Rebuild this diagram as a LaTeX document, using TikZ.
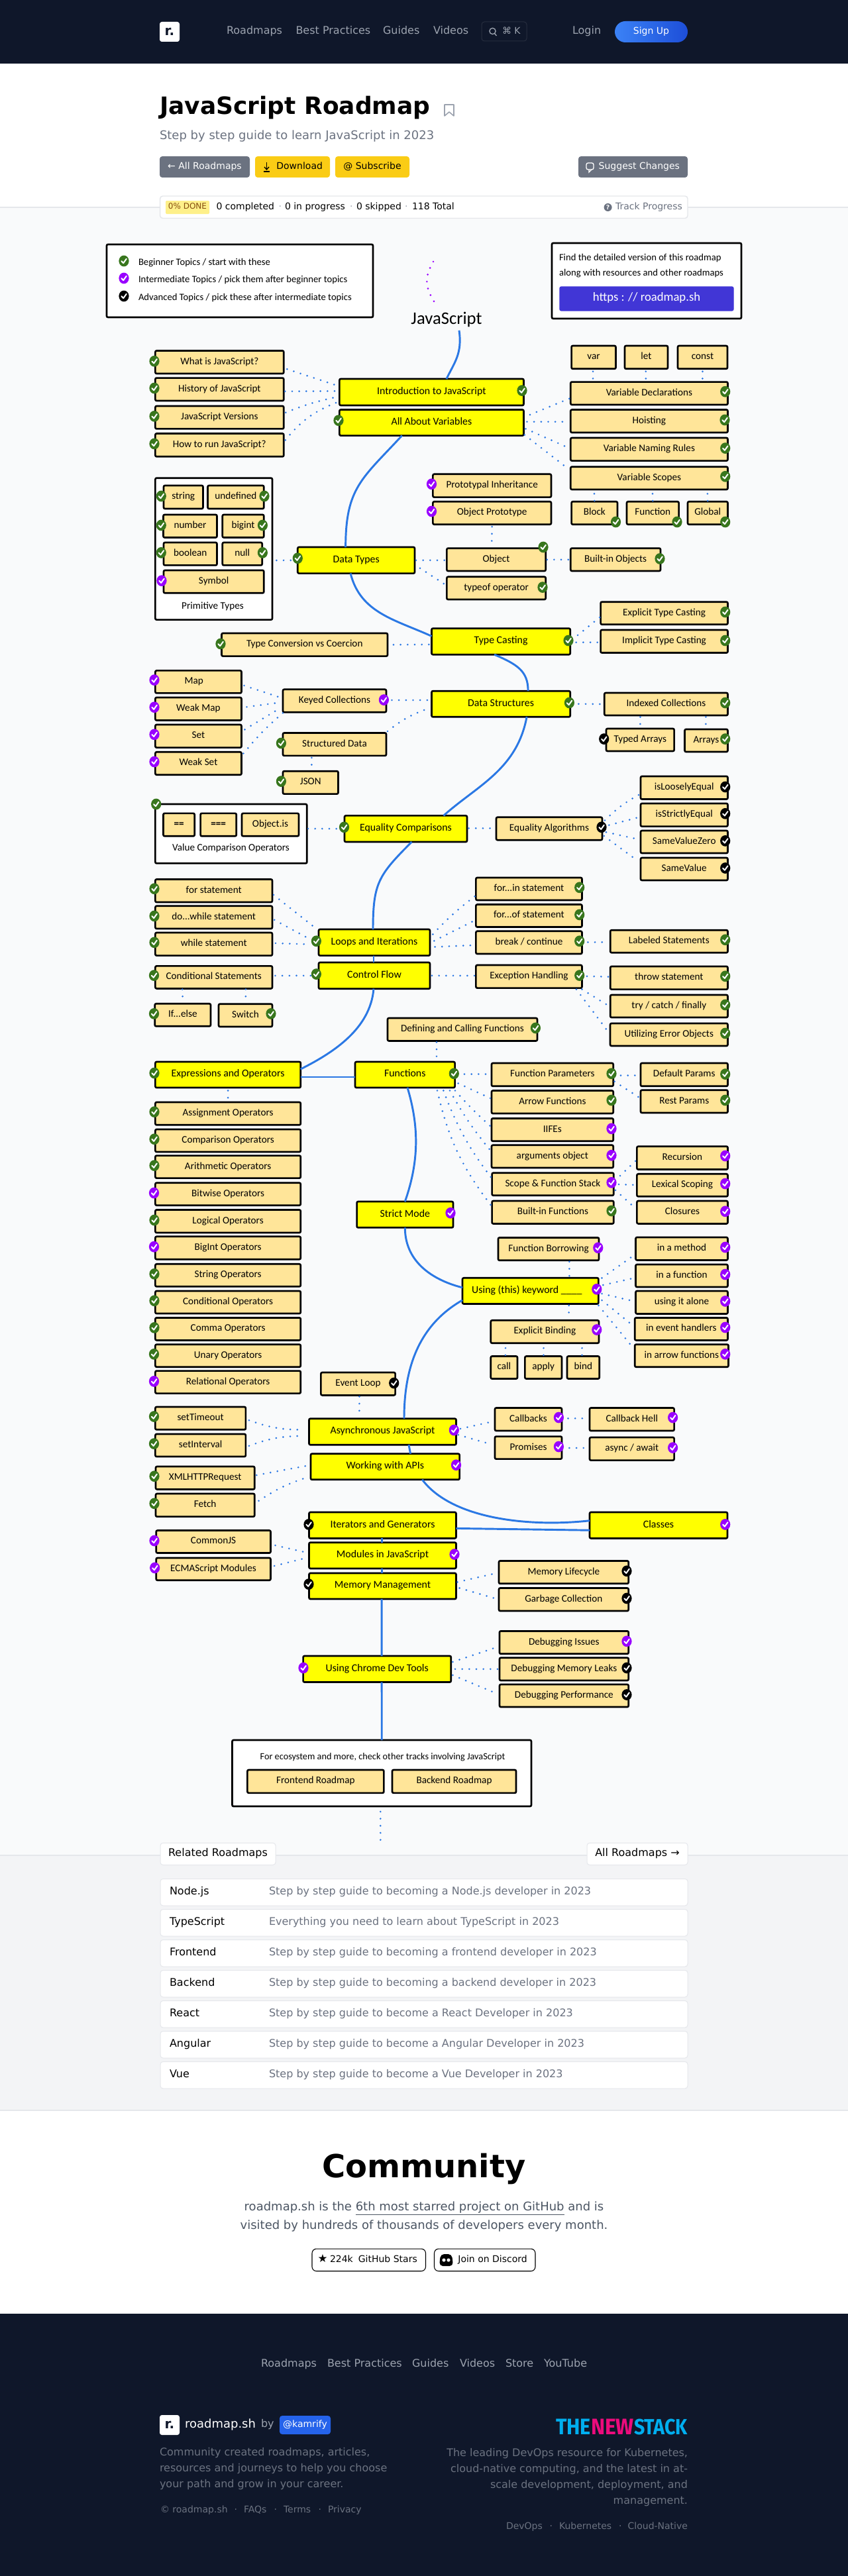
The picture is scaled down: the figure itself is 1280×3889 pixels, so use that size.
\documentclass[tikz,border=0pt]{standalone}
\usepackage{fontspec}
\usepackage{graphicx}
\usetikzlibrary{calc}
\setmainfont{Carlito}
\newfontfamily\djv{DejaVu Sans}
\newfontfamily\fira{Fira Sans}
\definecolor{navy}{HTML}{0F172A}
\definecolor{cblue}{HTML}{2B78E4}
\definecolor{topicy}{HTML}{FFFF00}
\definecolor{subt}{HTML}{FFE599}
\definecolor{ckg}{HTML}{38761D}
\definecolor{ckp}{HTML}{9900FF}
\definecolor{ckk}{HTML}{000000}
\definecolor{g200}{HTML}{E5E7EB}
\definecolor{g400}{HTML}{9CA3AF}
\definecolor{g500}{HTML}{6B7280}
\definecolor{g600}{HTML}{4B5563}
\definecolor{yel}{HTML}{FACC15}
\definecolor{indigo}{HTML}{4136D6}
\definecolor{bgA}{HTML}{F9FAFB}
\definecolor{bgB}{HTML}{F3F4F6}
\definecolor{signA}{HTML}{3B82F6}
\definecolor{signB}{HTML}{1D4ED8}
\definecolor{kamc}{HTML}{2563EB}
\definecolor{nscy}{HTML}{00AEEF}
\definecolor{nspk}{HTML}{EC0B7C}
\definecolor{donebg}{HTML}{FEF08A}
\definecolor{donefg}{HTML}{854D0E}
\tikzset{
 px12/.style={font=\djv\fontsize{9}{11}\selectfont,text height=6.6pt,text depth=2.2pt},
 px14/.style={font=\djv\fontsize{10.5}{12.5}\selectfont,text height=7.8pt,text depth=2.5pt},
 px16/.style={font=\djv\fontsize{12}{14}\selectfont,text height=8.9pt,text depth=2.9pt},
 px18/.style={font=\djv\fontsize{13.5}{16}\selectfont,text height=10pt,text depth=3.2pt},
 hand/.style={font=\fontsize{11.4}{13}\selectfont,text height=7.8pt,text depth=2.6pt,inner sep=0pt,outer sep=0pt,align=center},
 handS/.style={hand,font=\fontsize{11}{13}\selectfont},
 handB/.style={hand,font=\fontsize{10.7}{13}\selectfont},
 sub/.style={hand,draw=black,line width=2pt,fill=subt,rounded corners=1.5pt},
 top/.style={hand,font=\fontsize{11.9}{13}\selectfont,draw=black,line width=2pt,fill=topicy,rounded corners=1.5pt},
 wbox/.style={hand,draw=black,line width=2pt,fill=white,rounded corners=1.5pt},
 web/.style={inner sep=0pt,outer sep=0pt,anchor=west},
 webb/.style={inner sep=0pt,outer sep=0pt,rounded corners=3pt},
 dotl/.style={draw=cblue,line width=2.2pt,line cap=round,dash pattern=on 0pt off 8pt},
 main/.style={draw=cblue,line width=2.2pt},
 chip/.style={webb,draw=g200,line width=.75pt,fill=white},
}
\newcommand{\bx}[7][sub]{%
 \pgfmathsetmacro{\cxx}{(#3+#5)/2}\pgfmathsetmacro{\cyy}{(#4+#6)/2}%
 \pgfmathsetmacro{\www}{(#5-#3)*0.75}\pgfmathsetmacro{\hhh}{(#6-#4)*0.75}%
 \node[#1,minimum width=\www pt,minimum height=\hhh pt] (#2) at (\cxx,\cyy) {#7};}
\newcommand{\wb}[7][chip]{% web box: x1 y1 x2 y2
 \pgfmathsetmacro{\cxx}{(#3+#5)/2}\pgfmathsetmacro{\cyy}{(#4+#6)/2}%
 \pgfmathsetmacro{\www}{(#5-#3)*0.75}\pgfmathsetmacro{\hhh}{(#6-#4)*0.75}%
 \node[#1,minimum width=\www pt,minimum height=\hhh pt] (#2) at (\cxx,\cyy) {#7};}
\newcommand{\wt}[5][px14]{\node[web,#1] (#2) at (#3,#4) {#5};}
\newcommand{\ck}[3]{%
 \fill[ck#1] (#2,#3) circle[x radius=7.6,y radius=8.4];
 \draw[white,line width=1.5pt,line join=round,line cap=round] ($(#2,#3)+(-3.6,0.2)$) -- ($(#2,#3)+(-0.8,3.2)$) -- ($(#2,#3)+(3.8,-3.2)$);}
\newcommand{\cn}[5][]{\draw[dotl] ($(#2)+(#3)$) to[#1] ($(#4)+(#5)$);}
\begin{document}
\begin{tikzpicture}[x=0.75pt,y=-0.75pt]
\useasboundingbox (0,0) rectangle (1280,3889);
% page bands
\fill[white] (0,0) rectangle (1280,3889);
\fill[navy] (0,0) rectangle (1280,96);
\fill[bgA] (0,313) rectangle (1280,2801);
\draw[g200,line width=.9pt] (0,313) -- (1280,313);
\fill[bgB] (0,2801) rectangle (1280,3186);
\draw[g200,line width=.9pt] (0,2801) -- (1280,2801);
\draw[g200,line width=.9pt] (0,3186) -- (1280,3186);
\fill[navy] (0,3493) rectangle (1280,3889);
% header
\wb[webb,fill=white,rounded corners=2.5pt,font=\djv\bfseries\fontsize{15}{15}\selectfont,text=navy]{logoa}{241}{33}{271}{63}{r.}
\wt[px16,text=g400]{navA}{342}{48}{Roadmaps}
\wt[px16,text=g400]{navB}{446.5}{48}{Best Practices}
\wt[px16,text=g400]{navC}{578}{48}{Guides}
\wt[px16,text=g400]{navD}{654}{48}{Videos}
\wb[webb,draw=white!10!navy,line width=.75pt,fill=navy]{srch}{727}{33}{795}{62}{}
\draw[g400,line width=1pt] (743.5,47) circle (4.6);
\draw[g400,line width=1pt] (746.5,50.5) -- (749.5,54);
\wt[px14,text=g400]{navE}{758}{48}{⌘ K}
\wt[px16,text=g400]{navF}{864}{48}{Login}
\wb[webb,rounded corners=12pt,left color=signA,right color=signB,text=white,px14]{signup}{928}{32}{1038}{64}{Sign Up}
% title block
\wt[font=\djv\bfseries\fontsize{27}{30}\selectfont,text height=20pt,text depth=6pt]{ttl}{241}{163}{JavaScript Roadmap}
\draw[g400,line width=1.2pt,line join=round] (671,158) -- (685,158) -- (685,175) -- (678,169) -- (671,175) -- cycle;
\wt[px18,text=g500]{subttl}{241}{206}{Step by step guide to learn JavaScript in 2023}
\wb[webb,fill=g500,text=white,px14]{bA}{241}{236}{377}{268}{← All Roadmaps}
\wb[webb,fill=yel,text=black,px14]{bB}{385}{236}{498}{268}{\hspace{16pt}Download}
\draw[black,line width=1pt] (402.5,245) -- (402.5,255);
\draw[black,line width=1pt] (399,252) -- (402.5,256) -- (406,252);
\draw[black,line width=1pt] (398,259) -- (407,259);
\wb[webb,fill=yel,text=black,px14]{bC}{506}{236}{618}{268}{@ Subscribe}
\wb[webb,fill=g500,text=white,px14]{bD}{873}{236}{1038}{268}{\hspace{14pt}Suggest Changes}
\draw[white,line width=1pt,rounded corners=2pt] (885,246) rectangle (896,256);
\draw[white,line width=1pt] (889,256) -- (889,260) -- (893,256);
% progress bar
\wb[chip,line width=1.1pt]{prog}{241.6}{296}{1038}{329.5}{}
\wb[webb,rounded corners=1pt,fill=donebg,text=donefg,px12]{donep}{250}{303}{316}{323}{0\% DONE}
\wt[px14]{pA}{326.5}{313}{0 completed}
\wt[px14,text=g400]{pAs}{420.5}{313}{·}
\wt[px14]{pB}{430}{313}{0 in progress}
\wt[px14,text=g400]{pBs}{528}{313}{·}
\wt[px14]{pC}{538}{313}{0 skipped}
\wt[px14,text=g400]{pCs}{611}{313}{·}
\wt[px14]{pD}{622}{313}{118 Total}
\fill[g500] (917.6,313) circle (6);
\node[web,anchor=center,text=white,font=\djv\bfseries\fontsize{7}{7}\selectfont] (pq) at (917.6,313) {?};
\wt[px14,text=g500]{pE}{929}{313}{Track Progress}
% legend
\bx[wbox]{legend}{161}{369}{563}{479}{}
\ck{g}{187}{394}\ck{p}{187}{420}\ck{k}{187}{447}
\node[handS,anchor=west] (lgA) at (209,397) {Beginner Topics / start with these};
\node[handS,anchor=west] (lgB) at (209,423.5) {Intermediate Topics / pick them after beginner topics};
\node[handS,anchor=west] (lgC) at (209,450) {Advanced Topics / pick these after intermediate topics};
% find box
\bx[wbox]{findb}{833}{367}{1119}{481}{}
\node[handS,anchor=west] (fA) at (844,390) {Find the detailed version of this roadmap};
\node[handS,anchor=west] (fB) at (844,413) {along with resources and other roadmaps};
\bx[wbox,font=\fontsize{14}{16}\selectfont,fill=indigo,draw=indigo,text=white,line width=0.8pt]{findu}{845}{433}{1107}{469}{https : // roadmap.sh}
% js title
\coordinate (pa) at (654,395); \coordinate (pb) at (655,455);
\draw[dotl,draw=ckp] (pa) .. controls (641,418) and (641,432) .. (pb);
\node[inner sep=0pt,outer sep=0pt,font=\fontsize{20}{22}\selectfont] (jstitle) at (674,482.5) {JavaScript};
% intro
\bx{what}{234.4}{529.5}{428.3}{564}{What is JavaScript?}
\bx{history}{234.4}{570.6}{428.3}{605}{History of JavaScript}
\bx{versions}{234.4}{613}{428.3}{647.4}{JavaScript Versions}
\bx{howto}{234.4}{654.5}{428.3}{689.3}{How to run JavaScript?}
\bx[top]{intro}{512.4}{572}{790.5}{612}{Introduction to JavaScript}
\bx[top]{allvars}{512.4}{618.5}{790.5}{657.6}{All About Variables}
\bx{var}{862.6}{522}{929.5}{556.8}{var}
\bx{let}{943}{522}{1008}{556.8}{let}
\bx{const}{1023}{522}{1098}{556.8}{const}
\bx{vardecl}{861.3}{576.6}{1098.5}{611}{Variable Declarations}
\bx{hoisting}{861.3}{618.5}{1098.5}{653}{Hoisting}
\bx{naming}{861.3}{661}{1098.5}{695.6}{Variable Naming Rules}
\bx{scopes}{861.3}{704.7}{1098.5}{739}{Variable Scopes}
\bx{block}{862.6}{757.3}{932}{791.7}{Block}
\bx{func}{946}{757.3}{1024.6}{791.7}{Function}
\bx{glob}{1038}{757.3}{1098.5}{791.7}{Global}
% primitive
\bx[wbox]{prim}{234.4}{721.7}{411}{935.6}{}
\bx{pstr}{247}{733}{306.5}{768}{string}
\bx{pund}{313.5}{733}{398.3}{768}{undefined}
\bx{pnum}{246.5}{777}{327.5}{811.5}{number}
\bx{pbig}{335.8}{777}{398.3}{811.5}{bigint}
\bx{pbool}{247}{819}{327.5}{853.4}{boolean}
\bx{pnull}{335.8}{819}{395.7}{853.4}{null}
\bx{psym}{247}{861}{398.3}{895.3}{Symbol}
\node[hand] (primt) at (321,916) {Primitive Types};
\bx[top]{datatypes}{449.3}{826}{626}{865.6}{Data Types}
\bx{object}{674.4}{827.7}{823.7}{862}{Object}
\bx{typeofop}{674.4}{870.8}{823.7}{905}{typeof operator}
\bx{builtinobj}{861.3}{827.7}{997}{862}{Built-in Objects}
\bx{protoinh}{653.4}{715.8}{832}{750.6}{Prototypal Inheritance}
\bx{objproto}{653.4}{757.3}{832}{791.7}{Object Prototype}
\bx{expl}{906.6}{908.7}{1098.5}{942.7}{Explicit Type Casting}
\bx{impl}{906.6}{951}{1098.5}{985.5}{Implicit Type Casting}
\bx[top]{tc}{651.5}{948.7}{860.7}{988.2}{Type Casting}
\bx{tcv}{334.5}{956}{585}{990.6}{Type Conversion vs Coercion}
% data structures
\bx{map}{234.4}{1012.4}{364.5}{1046.4}{Map\hspace{10pt}}
\bx{weakmap}{234.4}{1053}{364.5}{1087.5}{Weak Map}
\bx{setb}{234.4}{1094}{364.5}{1128.6}{Set}
\bx{weakset}{234.4}{1135.3}{364.5}{1169.7}{Weak Set}
\bx{keyed}{427}{1040.8}{583}{1075.2}{Keyed Collections}
\bx[top]{ds}{651.5}{1043.2}{860.7}{1082.3}{Data Structures}
\bx{indexed}{912.3}{1046}{1098.5}{1080}{Indexed Collections}
\bx{typedarr}{915}{1100}{1017.6}{1134}{Typed Arrays}
\bx{arrays}{1033.5}{1101}{1098.5}{1135}{Arrays}
\bx{structured}{427}{1106.5}{583}{1140.9}{Structured Data}
\bx{json}{427}{1164.2}{510.5}{1198.6}{JSON}
% equality
\bx[wbox]{valbox}{234.4}{1214}{463.3}{1303.4}{}
\bx[sub,font=\bfseries\fontsize{11.4}{13}\selectfont]{eqa}{246.5}{1227.9}{293.7}{1262.3}{==}
\bx[sub,font=\bfseries\fontsize{11.4}{13}\selectfont]{eqb}{302.6}{1227.9}{356.8}{1262.3}{===}
\bx{eqc}{365}{1227.9}{451}{1262.3}{Object.is}
\node[hand] (valt) at (348.5,1281) {Value Comparison Operators};
\bx[top]{eqcomp}{520}{1231.4}{705}{1271}{Equality Comparisons}
\bx{alg}{749}{1233.8}{909}{1268.2}{Equality Algorithms}
\bx{isloose}{967}{1172}{1098.5}{1206.5}{isLooselyEqual}
\bx{isstrict}{967}{1213}{1098.5}{1247.6}{isStrictlyEqual}
\bx{svz}{967}{1254}{1098.5}{1288}{SameValueZero}
\bx{sv}{967}{1295}{1098.5}{1329}{SameValue}
% loops
\bx{forst}{234.4}{1327.5}{411}{1362}{for statement}
\bx{dowh}{234.4}{1367.8}{411}{1402}{do...while statement}
\bx{whilest}{234.4}{1408}{411}{1442.6}{while statement}
\bx[top]{loops}{481}{1403}{649}{1442.6}{Loops and Iterations}
\bx[top]{ctrl}{481}{1453}{649}{1492.8}{Control Flow}
\bx{forin}{718.4}{1325}{878.5}{1359}{for...in statement}
\bx{forof}{718.4}{1365.5}{878.5}{1399.5}{for...of statement}
\bx{breakst}{718.4}{1405.8}{878.5}{1440}{break / continue}
\bx{labeled}{921.2}{1404.2}{1098.5}{1438.2}{Labeled Statements}
\bx{exc}{718.4}{1457}{878.5}{1491.6}{Exception Handling}
\bx{throwst}{921.2}{1459}{1098.5}{1493.6}{throw statement}
\bx{trycatch}{921.2}{1502}{1098.5}{1536}{try / catch / finally}
\bx{utilerr}{921}{1545}{1098.5}{1579}{Utilizing Error Objects}
\bx{condst}{234.4}{1458.4}{411}{1492.4}{Conditional Statements}
\bx{ifelse}{233.7}{1515.3}{318}{1549.3}{If...else}
\bx{switchst}{330}{1515.7}{411}{1550}{Switch}
% functions
\bx{defining}{585}{1537}{811}{1571.4}{Defining and Calling Functions}
\bx[top]{expr}{234.4}{1603}{453.8}{1642}{Expressions and Operators}
\bx[top]{fn}{536}{1603}{686.6}{1642}{Functions}
\bx{fparams}{742}{1605}{925.7}{1639.8}{Function Parameters}
\bx{arrowf}{742}{1646.5}{925.7}{1681}{Arrow Functions}
\bx{iife}{742}{1688.4}{925.7}{1722.8}{IIFEs}
\bx{argsobj}{742}{1728.8}{925.7}{1763}{arguments object}
\bx{scopest}{742.6}{1770.7}{926.3}{1804.7}{Scope \& Function Stack}
\bx{bif}{742.6}{1813}{926.3}{1847.4}{Built-in Functions}
\bx{defparams}{967}{1605}{1098.5}{1639.8}{Default Params}
\bx{restp}{967}{1645.7}{1098.5}{1680}{Rest Params}
\bx{recur}{961.4}{1730.7}{1098.5}{1765.5}{Recursion}
\bx{lexical}{961.4}{1772.3}{1098.5}{1806.3}{Lexical Scoping}
\bx{closures}{961.4}{1813}{1098.5}{1847.4}{Closures}
\bx[top]{strict}{538.6}{1814}{684}{1853.3}{Strict Mode}
\bx{borrow}{752}{1868.4}{904}{1902.8}{Function Borrowing}
\bx[top]{using}{698}{1929.3}{903.4}{1968.4}{Using (this) keyword \_\_\_\_\hspace{8pt}}
\bx{explbind}{740.8}{1993.3}{904}{2027.7}{Explicit Binding}
\bx{callb}{740.8}{2047.5}{781}{2081.5}{call}
\bx{applyb}{792.4}{2047.5}{848}{2081.5}{apply}
\bx{bindb}{856}{2047.5}{904.7}{2081.5}{bind}
\bx{method}{959.5}{1868}{1098.5}{1902.4}{in a method}
\bx{infunc}{959.5}{1909}{1098.5}{1943}{in a function}
\bx{alone}{959.5}{1949}{1098.5}{1983.4}{using it alone}
\bx{inevent}{958.2}{1989.4}{1098.5}{2023.4}{in event handlers}
\bx{inarrow}{958.2}{2029.7}{1099.5}{2063.7}{in arrow functions}
% operators
\bx{assign}{234.4}{1664}{453.8}{1698.3}{Assignment Operators}
\bx{compar}{234.4}{1705}{453.8}{1739}{Comparison Operators}
\bx{arith}{234.4}{1744.6}{453.8}{1778.6}{Arithmetic Operators}
\bx{bitw}{234.4}{1785.7}{453.8}{1819.7}{Bitwise Operators}
\bx{logic}{234.4}{1826.5}{453.8}{1861}{Logical Operators}
\bx{bigi}{234.4}{1866.8}{453.8}{1901.2}{BigInt Operators}
\bx{strop}{234.4}{1908.3}{453.8}{1942.3}{String Operators}
\bx{condop}{234.4}{1949}{453.8}{1983}{Conditional Operators}
\bx{comma}{234.4}{1989.4}{453.8}{2023.4}{Comma Operators}
\bx{unary}{234.4}{2029.7}{453.8}{2063.7}{Unary Operators}
\bx{relat}{234.4}{2069.6}{453.8}{2103.6}{Relational Operators}
% async
\bx{eventloop}{484.4}{2072}{596.6}{2106.4}{Event Loop}
\bx{settime}{234.4}{2124}{370.9}{2158.3}{setTimeout}
\bx{setint}{234.4}{2165}{370.9}{2199}{setInterval}
\bx{xml}{235}{2214}{384.3}{2248.4}{XMLHTTPRequest}
\bx{fetch}{235}{2255}{384.3}{2289.6}{Fetch}
\bx[top]{async}{466.5}{2141.7}{688.5}{2181.2}{Asynchronous JavaScript}
\bx[top]{apis}{469}{2194.7}{693.6}{2233.8}{Working with APIs}
\bx{callbacks}{747}{2125.5}{848}{2160}{Callbacks}
\bx{promises}{747}{2168.6}{848}{2202.6}{Promises}
\bx{hell}{890}{2125.5}{1017.6}{2160}{Callback Hell}
\bx{asyncaw}{890}{2170}{1017.6}{2204.6}{async / await}
\bx[top]{iter}{466.5}{2283}{688.5}{2322.4}{Iterators and Generators}
\bx[top]{classes}{890}{2283}{1098}{2322.4}{Classes}
\bx[top]{modules}{466.5}{2328.7}{688.5}{2367.9}{Modules in JavaScript}
\bx[top]{memmgmt}{466.5}{2375}{688.5}{2414}{Memory Management}
\bx{commonjs}{235.7}{2310.5}{408.5}{2344.5}{CommonJS}
\bx{ecma}{235.7}{2352}{408.5}{2385.7}{ECMAScript Modules}
\bx{lifecycle}{753}{2356.4}{948.7}{2390.8}{Memory Lifecycle}
\bx{garbage}{753}{2397.5}{948.7}{2432}{Garbage Collection}
\bx{issues}{754}{2462.4}{948.7}{2496.8}{Debugging Issues}
\bx{leaks}{754}{2502.7}{948.7}{2537}{Debugging Memory Leaks}
\bx{perf}{754}{2543}{948.7}{2577}{Debugging Performance}
\bx[top]{chrome}{457.6}{2500}{680.8}{2539.5}{Using Chrome Dev Tools}
% bottom box
\bx[wbox]{bottombox}{350.5}{2627}{802}{2727}{}
\node[handB] (bott) at (577.5,2653) {For ecosystem and more, check other tracks involving JavaScript};
\bx{front}{373.4}{2672}{579.4}{2706.8}{Frontend Roadmap}
\bx{back}{592}{2672}{779}{2706.8}{Backend Roadmap}
% solid connectors
\draw[main] ($(jstitle.south)+(19,5)$) .. controls +(5,35) and +(12,-25) .. ($(intro.north)+(22.5,0)$);
\draw[main] ($(allvars.south)+(-44.7,0)$) .. controls +(-60,65) and +(0,-90) .. ($(datatypes.north)+(-16,0)$);
\draw[main] ($(datatypes.south)+(-8.6,0)$) .. controls +(15,60) and +(-55,-25) .. ($(tc.west)+(0,-8)$);
\draw[main] ($(tc.south)+(-10,0)$) .. controls +(35,15) and +(0,-30) .. ($(ds.north)+(41,0)$);
\draw[main] ($(ds.south)+(39,0)$) .. controls +(-15,80) and +(50,-45) .. ($(eqcomp.north)+(57,0)$);
\draw[main] ($(eqcomp.south)+(9,0)$) .. controls +(-50,50) and +(0,-70) .. ($(loops.north)+(-2,0)$);
\draw[main] ($(loops.south)+(-1,0)$) -- ($(ctrl.north)+(-1,0)$);
\draw[main] ($(ctrl.south)+(-1,0)$) .. controls +(-5,60) and +(50,-25) .. ($(expr.east)+(0,-8.5)$);
\draw[main] ($(expr.east)+(0,3.5)$) -- ($(fn.west)+(0,3.5)$);
\draw[main] ($(fn.south)+(3.7,0)$) .. controls +(18,60) and +(21,-60) .. (strict.north);
\draw[main] (strict.south) .. controls +(0,55) and +(-40,-10) .. ($(using.west)+(0,-5)$);
\draw[main] ($(using.west)+(0,14)$) .. controls +(-70,40) and +(0,-70) .. ($(async.north)+(32.5,0)$);
\draw[main] ($(async.south)+(39.5,0)$) -- ($(apis.north)+(38.3,0)$);
\draw[main] ($(apis.south)+(56,0)$) .. controls +(45,60) and +(-90,10) .. ($(classes.west)+(0,-7)$);
\draw[main] ($(classes.west)+(0,7.5)$) -- ($(iter.east)+(0,4.7)$);
\draw[main] ($(iter.south)+(-1.3,0)$) -- ($(modules.north)+(-1.3,0)$);
\draw[main] ($(modules.south)+(-1.3,0)$) -- ($(memmgmt.north)+(-1.3,0)$);
\draw[main] ($(memmgmt.south)+(-1.3,0)$) -- ($(chrome.north)+(7,0)$);
\draw[main] ($(chrome.south)+(7,0)$) -- ($(bottombox.north)+(0,0)$);
% dotted connectors
\cn{what.east}{5,10.5}{intro.west}{-6,-10.7}
\cn{history.east}{2,3}{intro.west}{-6,-1.6}
\cn[bend left=5]{versions.east}{3,-7.4}{intro.west}{-2.4,7}
\cn[bend left=15]{howto.east}{2.5,-7.5}{intro.west}{-2.4,15}
\cn{allvars.east}{9.5,-12}{vardecl.west}{-2,8}
\cn{allvars.east}{5,-1.3}{hoisting.west}{-2,1}
\cn{allvars.east}{3,9.3}{naming.west}{-2,-1.7}
\cn{allvars.east}{1.3,18.5}{scopes.west}{-6,-16}
\cn{var.south}{-1,4}{vardecl.north}{-84.9,-2.6}
\cn{let.south}{-.7,4}{vardecl.north}{-5.1,-2.6}
\cn{const.south}{0,4}{vardecl.north}{80.4,-2.6}
\cn{scopes.south}{-82.9,6.4}{block.north}{0,-1}
\cn{scopes.south}{5.1,6.4}{func.north}{0,-1}
\cn{scopes.south}{88,6.4}{glob.north}{0,-1}
\cn{prim.east}{6.4,17.4}{datatypes.west}{-9.3,0}
\cn{datatypes.east}{2,0}{object.west}{-2,1}
\cn{datatypes.east}{8,12}{typeofop.west}{-3.4,-6}
\cn{object.east}{2,0}{builtinobj.west}{-2,0}
\cn{objproto.south}{0,3.5}{object.north}{-7,-1}
\cn{tc.east}{11.3,-9.5}{expl.west}{-1.3,6.3}
\cn{tc.east}{9,1.3}{impl.west}{-2.6,1.5}
\cn{tcv.east}{9,0}{tc.west}{-1.5,4.5}
\cn{map.east}{4,5.6}{keyed.west}{-5,-5.3}
\cn{weakmap.east}{8,-3}{keyed.west}{-5,2.6}
\cn{setb.east}{5,-10}{keyed.west}{-3.2,10.5}
\cn[bend left=5]{weakset.east}{3,-15}{keyed.west}{0,18.4}
\cn{keyed.east}{8.5,-1}{ds.west}{-3.5,-5.75}
\cn[bend left=10]{structured.north east}{2,-2.5}{ds.west}{-1.5,5.75}
\cn{structured.south}{-34.6,3}{json.north}{1.6,-6.7}
\cn{ds.east}{12.7,0}{indexed.west}{-3.8,0}
\cn{indexed.south}{-38.9,2.3}{typedarr.north}{0,-2}
\cn{indexed.south}{60,2.3}{arrays.north}{-.6,-1}
\cn{valbox.east}{1.7,-7.7}{eqcomp.west}{-10,0}
\cn{eqcomp.east}{2.6,-.8}{alg.west}{-3,-.6}
\cn[bend left=8]{alg.east}{4,-12.5}{isloose.west}{-2.4,10.5}
\cn{alg.east}{10.3,-5.3}{isstrict.west}{-5.6,4.3}
\cn{alg.east}{6,5.3}{svz.west}{-7.5,-4.8}
\cn{alg.east}{2.7,11}{sv.west}{-4.3,-12.2}
\cn{forst.east}{2,6.25}{loops.west}{-3,-20.2}
\cn{dowh.east}{3.2,3.9}{loops.west}{-15.7,-6.3}
\cn{whilest.east}{5,-1.3}{loops.west}{-12.6,2.8}
\cn[bend left=5]{loops.east}{4.4,-12.3}{forin.west}{-1.4,11}
\cn{loops.east}{6.3,-2.4}{forof.west}{-4.4,8.3}
\cn{loops.east}{7.6,6.7}{breakst.west}{-4.4,4.1}
\cn{breakst.east}{8.9,-.5}{labeled.west}{-6.3,1.2}
\cn{condst.east}{4.5,-2.4}{ctrl.west}{-9.4,0}
\cn{condst.south}{-47.5,1.2}{ifelse.north}{0,-6}
\cn{condst.south}{48.2,1.2}{switchst.north}{.4,-6.3}
\cn{ctrl.east}{3,0}{exc.west}{-1.4,-1.3}
\cn{exc.east}{7.5,-.5}{throwst.west}{-1.9,-1.7}
\cn{exc.south east}{0,2}{trycatch.west}{-4.4,-1.7}
\cn{exc.south}{71.5,2}{utilerr.west}{-3,-4.4}
\cn{defining.south}{-39,2}{fn.north}{47.7,-2}
\cn{expr.south}{0,4.5}{assign.north}{0,-3.6}
\cn{fn.east}{14.4,-.9}{fparams.west}{-4,-.8}
\cn{fn.east}{5.1,13}{arrowf.west}{-1.2,-5.35}
\cn[bend right=3]{fn.south}{75.7,4.5}{iife.west}{-1.2,-4.9}
\cn[bend right=5]{fn.south}{67.7,4.5}{argsobj.west}{-1.2,-8.4}
\cn[bend right=8]{fn.south}{58,4.5}{scopest.west}{-1.8,-10.7}
\cn[bend right=12]{fn.south}{48.7,4.5}{bif.west}{-1.8,-10.9}
\cn{fparams.east}{11.3,1.2}{defparams.west}{-3,1.2}
\cn{fparams.east}{1.9,10.3}{restp.west}{-3,-6.5}
\cn{scopest.east}{9.7,-12.7}{recur.west}{-1.9,4.4}
\cn{scopest.east}{7.7,.3}{lexical.west}{-1.9,-.3}
\cn{scopest.east}{2.7,9.1}{closures.west}{-1.9,-5.7}
\cn{borrow.south}{31.4,2}{using.north}{58.7,-1}
\cn{using.east}{5.1,-19.5}{method.west}{-3.2,10.4}
\cn{using.east}{7,-8.85}{infunc.west}{-5.1,4}
\cn{using.east}{5.1,4.15}{alone.west}{-6.5,-2.6}
\cn{using.east}{5.1,14.15}{inevent.west}{-5.2,-7.2}
\cn{using.east}{0,22}{inarrow.west}{-3.2,-12.7}
\cn{using.south}{58,2.4}{explbind.north}{36.3,-2.8}
\cn{explbind.south}{-59.4,7.5}{callb.north}{2,-1.5}
\cn{explbind.south}{-1.9,7.5}{applyb.north}{.3,-1.5}
\cn{explbind.south}{56.1,7.5}{bindb.north}{-1.85,-1.5}
\cn{eventloop.south}{1.9,2}{async.north}{-35.1,-1.7}
\cn[bend right=10]{settime.east}{5,3}{async.west}{-7.5,-3}
\cn[bend left=10]{setint.east}{5,.8}{async.west}{-7.5,6.35}
\cn{xml.east}{3,-4.2}{apis.west}{-8.2,-1}
\cn[bend left=8]{fetch.east}{6.3,-6.5}{apis.west}{-2.5,15.25}
\cn{async.east}{6.5,-4.5}{callbacks.west}{-7.5,4.25}
\cn{async.east}{3.2,4.75}{promises.west}{-4.3,-4.8}
\cn{callbacks.east}{9.5,-1.45}{hell.west}{-8.3,-1.45}
\cn{promises.east}{11.4,.4}{asyncaw.west}{-7,-1.3}
\cn{commonjs.east}{7,5.5}{modules.west}{-7.5,-5.3}
\cn{ecma.east}{5.7,-4.85}{modules.west}{-7.5,4.5}
\cn{memmgmt.east}{1.9,-6.1}{lifecycle.west}{-2,1}
\cn{memmgmt.east}{5.1,3}{garbage.west}{-6,-1.75}
\cn{chrome.east}{2.6,-10.75}{issues.west}{-2,6.4}
\cn{chrome.east}{6.2,0}{leaks.west}{-2,0}
\cn{chrome.east}{2.6,9.25}{perf.west}{-2,-2.3}
\coordinate (dotend) at (574.3,2788);
\draw[dotl] ($(bottombox.south)+(-2,8)$) -- (dotend);
% badges
\ck{g}{233}{545.3}\ck{g}{233}{586}\ck{g}{233}{628.4}\ck{g}{233}{670}
\ck{g}{788}{589.6}\ck{g}{511}{634.7}
\ck{g}{1094.7}{591.2}\ck{g}{1094}{634}\ck{g}{1094.7}{676.6}\ck{g}{1094.7}{719.3}
\ck{g}{929.5}{788}\ck{g}{1022}{788}\ck{g}{1094.7}{788}
\ck{g}{243.3}{749}\ck{g}{399}{749}\ck{g}{243.3}{793}\ck{g}{396.4}{793}\ck{g}{243.3}{834.4}\ck{g}{396.4}{834.4}\ck{p}{244}{876.7}
\ck{g}{449.3}{842.7}\ck{g}{820}{826}\ck{g}{819}{886.6}\ck{g}{996}{843.5}
\ck{p}{651.5}{730.8}\ck{p}{651.5}{772}
\ck{g}{1094.7}{924}\ck{g}{1094.7}{967}\ck{g}{858}{967}\ck{g}{333}{972}
\ck{p}{233}{1026.6}\ck{p}{233}{1067.7}\ck{p}{233}{1108.8}\ck{p}{233}{1150}
\ck{p}{579.4}{1056.6}\ck{g}{859.4}{1061}\ck{g}{1094.7}{1061}\ck{k}{911.7}{1115.6}\ck{g}{1094.7}{1115.6}
\ck{g}{424.4}{1122}\ck{g}{424.4}{1179.6}\ck{g}{235.7}{1214}\ck{g}{519.5}{1248.8}\ck{k}{908}{1248.8}
\ck{k}{1094.7}{1188}\ck{k}{1094.7}{1228.3}\ck{k}{1094.7}{1269.4}\ck{k}{1094.7}{1310.5}
\ck{g}{233}{1341.7}\ck{g}{233}{1382.9}\ck{g}{233}{1422.8}\ck{g}{477.4}{1420.8}\ck{g}{477.4}{1470.6}
\ck{g}{874.7}{1339.8}\ck{g}{874.7}{1380.9}\ck{g}{874.7}{1420.8}\ck{g}{1094.7}{1418.8}\ck{g}{874.7}{1472.6}
\ck{g}{1094.7}{1473.8}\ck{g}{1094.7}{1517}\ck{g}{1094.7}{1560}
\ck{g}{232.5}{1472.6}\ck{g}{232.5}{1530.4}\ck{g}{409}{1530.4}\ck{g}{808.4}{1552}
\ck{g}{233}{1620}\ck{g}{685.3}{1620.8}\ck{g}{923}{1620.8}\ck{g}{923}{1661}\ck{p}{923}{1703.9}\ck{p}{923}{1744.2}\ck{p}{923}{1785.3}\ck{g}{923}{1828}
\ck{g}{1094.7}{1621.6}\ck{g}{1094.7}{1661}\ck{p}{1094.7}{1745}\ck{p}{1094.7}{1787}\ck{p}{1094.7}{1828.8}
\ck{p}{680}{1831.2}\ck{p}{902.8}{1883.8}\ck{p}{900.8}{1946.3}\ck{p}{900.8}{2007.5}
\ck{p}{1094.7}{1883}\ck{p}{1094.7}{1924}\ck{p}{1094.7}{1964.4}\ck{p}{1094.7}{2004}\ck{p}{1094.7}{2044.3}
\ck{g}{233}{1678.6}\ck{g}{233}{1719.7}\ck{g}{233}{1759.6}\ck{p}{232.5}{1801}\ck{g}{233}{1842}\ck{p}{232.5}{1882.2}\ck{g}{233}{1923.3}\ck{g}{233}{1963.7}\ck{g}{233}{2004.4}\ck{g}{232.5}{2044.3}\ck{p}{232.5}{2085.4}
\ck{k}{594.7}{2088}
\ck{g}{232.5}{2138.5}\ck{g}{232.5}{2179.6}\ck{g}{233}{2228.7}\ck{g}{233}{2269.8}
\ck{p}{685.3}{2159}\ck{p}{688.5}{2211.7}\ck{p}{843.4}{2140}\ck{p}{843.4}{2184}\ck{p}{1015.6}{2140}\ck{p}{1015.6}{2185.6}
\ck{k}{466}{2301.4}\ck{p}{1094.7}{2301.4}\ck{p}{686}{2346.5}\ck{k}{466}{2391.6}\ck{p}{233}{2326}\ck{p}{233.7}{2367}
\ck{k}{946}{2371.8}\ck{k}{946}{2413}\ck{p}{946}{2477.8}\ck{k}{946}{2518}\ck{k}{946}{2558.5}\ck{p}{458}{2518}
% related
\wb[chip,px16]{relA}{242}{2782.3}{416}{2815.5}{Related Roadmaps}
\wb[chip,px16]{relB}{886}{2782.3}{1038}{2815.5}{All Roadmaps →}
\wb{rowA}{242}{2836.5}{1038}{2877}{}
\wb{rowB}{242}{2882.5}{1038}{2923}{}
\wb{rowC}{242}{2928.5}{1038}{2969}{}
\wb{rowD}{242}{2974.5}{1038}{3015}{}
\wb{rowE}{242}{3020.5}{1038}{3061}{}
\wb{rowF}{242}{3066.5}{1038}{3107}{}
\wb{rowG}{242}{3112.5}{1038}{3153}{}
\wt[px16]{rtA}{256}{2856.5}{Node.js}\wt[px16,text=g500]{rdA}{406}{2856.5}{Step by step guide to becoming a Node.js developer in 2023}
\wt[px16]{rtB}{256}{2902.5}{TypeScript}\wt[px16,text=g500]{rdB}{406}{2902.5}{Everything you need to learn about TypeScript in 2023}
\wt[px16]{rtC}{256}{2948.5}{Frontend}\wt[px16,text=g500]{rdC}{406}{2948.5}{Step by step guide to becoming a frontend developer in 2023}
\wt[px16]{rtD}{256}{2994.5}{Backend}\wt[px16,text=g500]{rdD}{406}{2994.5}{Step by step guide to becoming a backend developer in 2023}
\wt[px16]{rtE}{256}{3040.5}{React}\wt[px16,text=g500]{rdE}{406}{3040.5}{Step by step guide to become a React Developer in 2023}
\wt[px16]{rtF}{256}{3086.5}{Angular}\wt[px16,text=g500]{rdF}{406}{3086.5}{Step by step guide to become a Angular Developer in 2023}
\wt[px16]{rtG}{256}{3132.5}{Vue}\wt[px16,text=g500]{rdG}{406}{3132.5}{Step by step guide to become a Vue Developer in 2023}
% community
\node[web,anchor=center,font=\djv\bfseries\fontsize{36}{40}\selectfont,text height=27pt,text depth=8pt] (comm) at (640,3275) {Community};
\node[web,anchor=center,px18,text=g600] (cA) at (640,3333) {roadmap.sh is the \underline{6th most starred project on GitHub} and is};
\node[web,anchor=center,px18,text=g600] (cB) at (640,3361) {visited by hundreds of thousands of developers every month.};
\wb[webb,draw=black,line width=.8pt,fill=white,rounded corners=5pt]{ghb}{471}{3395}{642.5}{3428.7}{}
\wb[webb,draw=black,line width=.8pt,fill=white,rounded corners=5pt]{dcb}{655.5}{3395}{808}{3428.7}{}
\wt[px14,font=\djv\fontsize{12.5}{13}\selectfont]{ghs}{479.5}{3412}{★}
\wt[px14]{ght}{498}{3412}{224k\hspace{6pt}GitHub Stars}
\fill[black,rounded corners=4pt] (665,3403) -- (682,3403) -- (684,3421) -- (663,3421) -- cycle;
\fill[white] (670,3412) circle (2.6) (677,3412) circle (2.6);
\wt[px14]{dct}{691.4}{3412}{Join on Discord}
% footer
\wt[px16,text=g400]{flA}{394}{3569}{Roadmaps}
\wt[px16,text=g400]{flB}{494}{3569}{Best Practices}
\wt[px16,text=g400]{flC}{622}{3569}{Guides}
\wt[px16,text=g400]{flD}{694}{3569}{Videos}
\wt[px16,text=g400]{flE}{763}{3569}{Store}
\wt[px16,text=g400]{flF}{821}{3569}{YouTube}
\wb[webb,fill=white,rounded corners=2.5pt,font=\djv\bfseries\fontsize{15}{15}\selectfont,text=navy]{logob}{241}{3646}{271}{3676}{r.}
\wt[px18,text=white]{ftA}{279}{3661}{roadmap.sh}
\wt[px16,text=g400]{ftB}{394}{3660}{by}
\wb[webb,fill=kamc,text=white,px14]{kam}{422}{3647}{499}{3675}{@kamrify}
\wt[px16,text=g500]{ldA}{241}{3703}{Community created roadmaps, articles,}
\wt[px16,text=g500]{ldB}{241}{3727.6}{resources and journeys to help you choose}
\wt[px16,text=g500]{ldC}{241}{3751.5}{your path and grow in your career.}
\wt[px14,text=g500]{lfA}{242}{3790}{© roadmap.sh}
\wt[px14,text=g500]{lfB}{353.5}{3790}{·}
\wt[px14,text=g500]{lfC}{368}{3790}{FAQs}
\wt[px14,text=g500]{lfD}{413.5}{3790}{·}
\wt[px14,text=g500]{lfE}{428}{3790}{Terms}
\wt[px14,text=g500]{lfF}{480.5}{3790}{·}
\wt[px14,text=g500]{lfG}{495}{3790}{Privacy}
\node[web,text=nscy] (nsA) at (839,3664) {\resizebox{39.75pt}{17.6pt}{\fira\bfseries THE}};
\node[web,text=nspk] (nsB) at (892,3664) {\resizebox{48.75pt}{17.6pt}{\fira\bfseries NEW}};
\node[web,text=nscy] (nsC) at (957,3664) {\resizebox{60.75pt}{17.6pt}{\fira\bfseries STACK}};
\node[web,anchor=east,px16,text=g500] (rdiA) at (1038,3704) {The leading DevOps resource for Kubernetes,};
\node[web,anchor=east,px16,text=g500] (rdiB) at (1038,3728.5) {cloud-native computing, and the latest in at-};
\node[web,anchor=east,px16,text=g500] (rdiC) at (1038,3752.5) {scale development, deployment, and};
\node[web,anchor=east,px16,text=g500] (rdiD) at (1038,3776.4) {management.};
\wt[px14,text=g500]{rfA}{764}{3815}{DevOps}
\wt[px14,text=g500]{rfB}{829.5}{3815}{·}
\wt[px14,text=g500]{rfC}{844}{3815}{Kubernetes}
\wt[px14,text=g500]{rfD}{934}{3815}{·}
\node[web,anchor=east,px14,text=g500] (rfE) at (1038,3815) {Cloud-Native};
\end{tikzpicture}
\end{document}
